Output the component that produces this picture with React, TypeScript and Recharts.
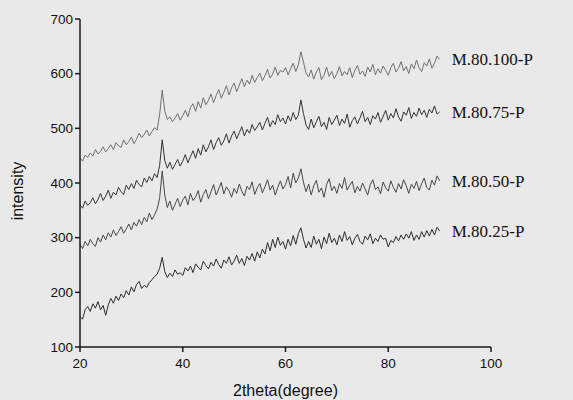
import React from 'react';
import { LineChart, Line, XAxis, YAxis, ReferenceDot } from 'recharts';

const thetaStart = 20;
const thetaStep = 0.5;

const xMajorTicks = [20, 40, 60, 80, 100];
const xMinorTicks = [30, 50, 70, 90];
const yTicks = [100, 200, 300, 400, 500, 600, 700];

const seriesNames = ['M.80.100-P', 'M.80.75-P', 'M.80.50-P', 'M.80.25-P'];

const m100 = [
  446, 440, 451, 447, 455, 449, 461, 453, 458, 466,
  457, 463, 470, 461, 474, 468, 465, 479, 470, 476,
  484, 472, 480, 491, 483, 489, 497, 486, 494, 501,
  497, 525, 570, 532, 516, 521, 512, 519, 527, 515,
  523, 533, 521, 538, 545, 531, 549, 537, 556, 543,
  551, 563, 547, 560, 571, 555, 566, 578, 561, 574,
  583, 567, 579, 591, 576, 588, 581, 597, 584, 593,
  601, 587, 596, 608, 592, 599, 612, 597, 606, 603,
  611, 598, 609, 619, 604, 616, 640, 621, 601, 594,
  607, 590, 603, 611, 589, 597, 612, 595, 604, 591,
  600, 613, 596, 604, 598, 611, 593, 606, 615, 599,
  605, 595, 612, 603, 617, 598, 609, 601, 614, 606,
  597, 611, 619, 603, 610, 622, 605, 613, 600, 618,
  609, 625, 611, 604, 620, 614, 627, 610, 619, 632,
  626,
];

const m75 = [
  360, 354, 367, 359, 364, 373, 362, 370, 381, 368,
  376, 387, 372, 383, 378, 392, 384, 379, 396, 388,
  399, 390, 405, 397, 393, 409, 401, 412, 404, 417,
  410, 432, 479, 441, 427, 438, 425, 434, 443, 431,
  440, 452, 437, 448, 459, 445, 463, 451, 470, 457,
  466, 479, 461, 474, 483, 469, 477, 490, 473, 486,
  495, 481, 492, 503, 486, 498, 491, 507, 496, 503,
  511, 497, 509, 520, 503, 514, 507, 525, 512, 519,
  508, 523, 513, 529, 516, 524, 552, 527, 506, 498,
  517, 501, 512, 522, 503, 511, 498, 520, 507, 515,
  524, 505, 517, 509, 526, 502, 514, 521, 508, 519,
  531, 512, 520, 507, 523, 517, 529, 511, 522, 533,
  515, 527, 519, 536, 521, 513, 530, 524, 538, 518,
  529, 522, 537, 525, 533, 520, 535, 528, 541, 526,
  530,
];

const m50 = [
  288, 280, 293, 285, 297, 289, 284, 300, 292, 305,
  296, 309, 301, 314, 304, 311, 320, 308, 316, 325,
  314, 328, 321, 333, 324, 337, 329, 345, 333, 341,
  352, 372, 422, 378, 355, 367, 350, 361, 372, 357,
  369, 376, 360, 381, 368, 374, 386, 365, 379, 388,
  371, 384, 397, 378, 389, 401, 380, 393, 386, 374,
  390, 381, 398, 385, 376, 394, 388, 402, 379, 391,
  399, 382, 393, 406, 387, 396, 378, 392, 404, 389,
  397, 412, 391, 418, 400, 409, 426, 401, 384, 398,
  378, 395, 405, 383, 391, 374, 397, 408, 386, 394,
  381, 399, 390, 410, 387, 396, 403, 382, 394, 385,
  400, 389, 378, 397, 406, 388, 393, 380, 402, 391,
  385, 404, 392, 383, 399, 389, 406, 395, 381, 398,
  390, 403, 386, 399, 409, 392, 387, 405, 396, 413,
  404,
];

const m25 = [
  155, 151, 168, 174, 165, 179, 171, 183, 168, 176,
  158, 177, 189, 180, 193, 185, 197, 190, 203, 195,
  210, 201, 214, 220, 207, 213, 209, 218, 223, 229,
  233, 244, 264, 238, 227, 235, 229, 241, 233, 236,
  231, 245, 239, 248, 236, 252, 246, 241, 257, 249,
  243, 255, 248, 261, 251, 244, 259, 253, 265, 250,
  257, 268, 253, 262, 249, 266, 259, 271, 257, 274,
  263, 279, 270, 291, 276, 297, 282, 301, 286, 293,
  279, 297, 285, 304, 288, 307, 318, 297, 281, 293,
  282, 303, 288, 297, 280, 301, 289, 308, 291, 299,
  287, 305, 293, 311, 295, 302, 287, 299, 306, 293,
  288, 303, 296, 307, 289, 299, 293, 305, 297, 299,
  283, 295, 291, 302, 294, 305, 297, 307, 299, 311,
  295, 305, 297, 311, 301, 313, 303, 315, 305, 319,
  312,
];

const seriesValues = [m100, m75, m50, m25];
const seriesKeys = ['a', 'b', 'c', 'd'];
const seriesColors = ['#707070', '#333333', '#484848', '#2c2c2c'];

const data = m100.map((v, i) => ({
  theta: thetaStart + i * thetaStep,
  a: v,
  b: m75[i],
  c: m50[i],
  d: m25[i],
}));

const lastIndex = m100.length - 1;
const lastTheta = thetaStart + lastIndex * thetaStep;

const sans = '"Liberation Sans", Arial, sans-serif';
const serif = '"Liberation Serif", "Times New Roman", serif';

const YLabel = (props: any) => {
  const vb = props.viewBox || { x: 0, y: 0, width: 0, height: 0 };
  const cx = vb.x + 17;
  const cy = vb.y + vb.height / 2 + 8;
  return (
    <text
      x={cx}
      y={cy}
      transform={`rotate(-90 ${cx} ${cy})`}
      textAnchor="middle"
      dominantBaseline="central"
      fontFamily={sans}
      fontSize={16}
      fill="#111"
    >
      intensity
    </text>
  );
};

export default function App() {
  return (
    <div
      style={{
        position: 'absolute',
        left: 0,
        top: 0,
        width: 573,
        height: 400,
        background: '#e9e9e9',
      }}
    >
      <LineChart
        width={573}
        height={400}
        data={data}
        margin={{ top: 19, right: 82, bottom: 0, left: 0 }}
      >
        <XAxis
          xAxisId="minor"
          dataKey="theta"
          type="number"
          domain={[20, 100]}
          ticks={xMinorTicks}
          allowDataOverflow
          height={0}
          mirror
          axisLine={false}
          tick={false}
          tickLine={{ stroke: '#1a1a1a', strokeWidth: 1.3 }}
          tickSize={4}
        />
        <XAxis
          dataKey="theta"
          type="number"
          domain={[20, 100]}
          ticks={xMajorTicks}
          allowDataOverflow
          height={53}
          stroke="#1a1a1a"
          strokeWidth={1.5}
          tickSize={5}
          tickMargin={6}
          tick={{ fill: '#111', fontSize: 13.5, fontFamily: sans }}
          label={{
            value: '2theta(degree)',
            position: 'insideBottom',
            offset: 4,
            fill: '#111',
            fontSize: 16,
            fontFamily: sans,
          }}
        />
        <YAxis
          type="number"
          domain={[100, 700]}
          ticks={yTicks}
          allowDataOverflow
          width={80}
          stroke="#1a1a1a"
          strokeWidth={1.5}
          tickSize={5}
          tickMargin={2}
          tick={{ fill: '#111', fontSize: 13.5, fontFamily: sans }}
          label={<YLabel />}
        />
        {seriesKeys.map((k, i) => (
          <Line
            key={k}
            type="linear"
            dataKey={k}
            stroke={seriesColors[i]}
            strokeWidth={1}
            dot={false}
            isAnimationActive={false}
          />
        ))}
        {seriesKeys.map((k, i) => (
          <ReferenceDot
            key={'lbl' + k}
            x={lastTheta}
            y={seriesValues[i][lastIndex]}
            r={0}
            fill="none"
            stroke="none"
            ifOverflow="visible"
            label={{
              value: seriesNames[i],
              position: 'right',
              offset: 12,
              fill: '#111',
              fontSize: 17,
              fontFamily: serif,
            }}
          />
        ))}
      </LineChart>
    </div>
  );
}
